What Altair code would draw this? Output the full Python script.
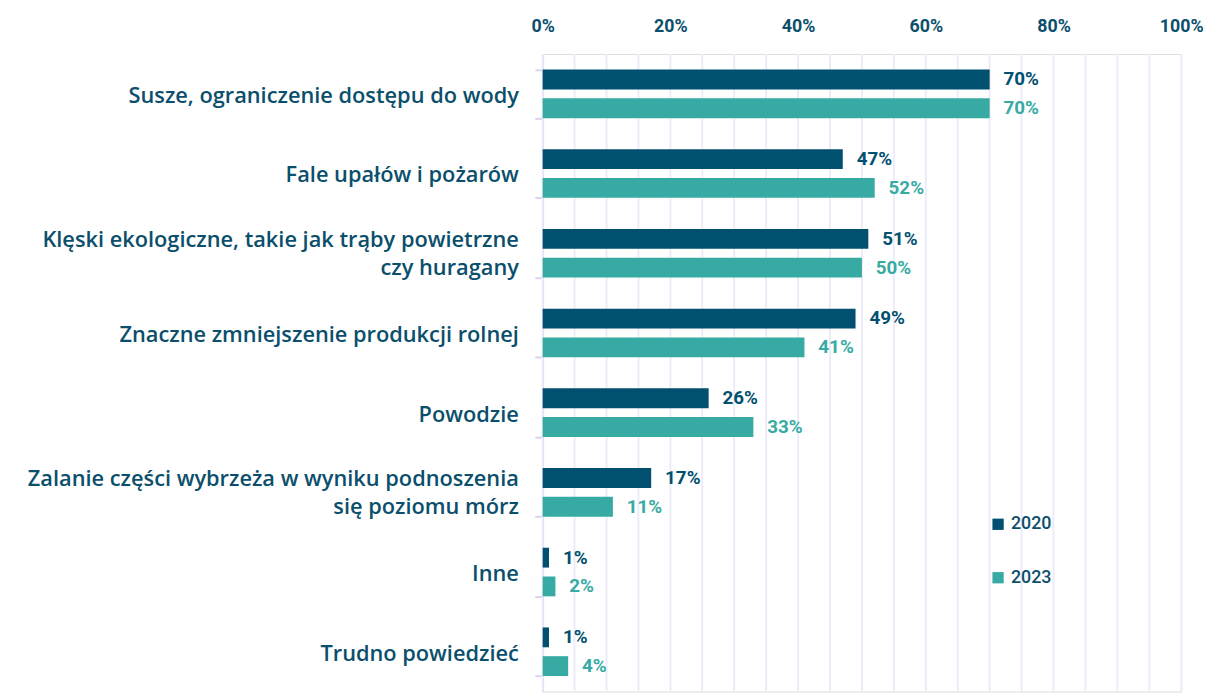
import altair as alt
import pandas as pd

categories = [
    "Susze, ograniczenie dostępu do wody",
    "Fale upałów i pożarów",
    "Klęski ekologiczne, takie jak trąby powietrzne|czy huragany",
    "Znaczne zmniejszenie produkcji rolnej",
    "Powodzie",
    "Zalanie części wybrzeża w wyniku podnoszenia|się poziomu mórz",
    "Inne",
    "Trudno powiedzieć",
]
years = ["2020", "2023"]
values_2020 = [70, 47, 51, 49, 26, 17, 1, 1]
values_2023 = [70, 52, 50, 41, 33, 11, 2, 4]
grid_values = list(range(0, 101, 5))
tick_values = list(range(0, 101, 20))

rows = []
for c, a, b in zip(categories, values_2020, values_2023):
    rows.append({"cat": c, "year": "2020", "value": a})
    rows.append({"cat": c, "year": "2023", "value": b})
df = pd.DataFrame(rows)

label_rows = []
for c in categories:
    parts = c.split("|")
    if len(parts) == 1:
        label_rows.append({"cat": c, "line": parts[0], "part": "single"})
    else:
        label_rows.append({"cat": c, "line": parts[0], "part": "first"})
        label_rows.append({"cat": c, "line": parts[1], "part": "second"})
ldf = pd.DataFrame(label_rows)
gdf = pd.DataFrame({"value": grid_values})

NAVY = "#02506F"
TEAL = "#37ABA3"
TEXT = "#0B4F6C"
LAV = "#D9D3F0"
GRID = "#EEEBF9"
FONT = "Open Sans"
NUMFONT = "Roboto"

color_scale = alt.Scale(domain=years, range=[NAVY, TEAL])
y_scale = alt.Scale(domain=categories, paddingInner=0.39, paddingOuter=0.195)
x_scale = alt.Scale(domain=[0, 100], nice=False)

x = alt.X(
    "value:Q",
    scale=x_scale,
    axis=alt.Axis(
        orient="top",
        title=None,
        values=tick_values,
        labelExpr="datum.value + '%'",
        labelFlush=False,
        labelFontSize=18,
        labelFont=NUMFONT,
        labelFontWeight="bold",
        labelColor=TEXT,
        labelPadding=19,
        ticks=False,
        domain=False,
        grid=False,
    ),
)

grid = alt.Chart(gdf).mark_rule(color=GRID, strokeWidth=2).encode(x=x)

y = alt.Y(
    "cat:N",
    sort=categories,
    scale=y_scale,
    axis=alt.Axis(
        title=None,
        labels=False,
        tickBand="extent",
        tickSize=8,
        tickColor=LAV,
        tickWidth=2,
        domainColor=LAV,
        domainWidth=2,
        grid=False,
    ),
)
yoff = alt.YOffset("year:N", sort=years, scale=alt.Scale(paddingInner=0.31))

bars = alt.Chart(df).mark_bar().encode(
    x=x,
    y=y,
    yOffset=yoff,
    color=alt.Color(
        "year:N",
        scale=color_scale,
        legend=alt.Legend(
            orient="none",
            legendX=451,
            legendY=466,
            title=None,
            symbolType="square",
            symbolSize=130,
            symbolStrokeWidth=0,
            labelFontSize=18,
            labelFont=NUMFONT,
            labelFontWeight=500,
            labelColor=TEXT,
            rowPadding=36,
            labelOffset=4,
        ),
    ),
)

values_text = alt.Chart(df).transform_calculate(
    label="datum.value + '%'"
).mark_text(
    align="left", baseline="middle", dx=14, fontSize=19, font=NUMFONT, fontWeight="bold"
).encode(
    x=alt.X("value:Q", scale=x_scale),
    y=alt.Y("cat:N", sort=categories, scale=y_scale),
    yOffset=alt.YOffset("year:N", sort=years),
    text="label:N",
    color=alt.Color("year:N", scale=color_scale, legend=None),
)


def cat_labels(part, dy):
    return alt.Chart(ldf).transform_filter(
        alt.datum.part == part
    ).mark_text(
        align="right", baseline="middle", dy=dy, fontSize=22, font=FONT,
        fontWeight=600, color=TEXT
    ).encode(
        x=alt.value(-24),
        y=alt.Y("cat:N", sort=categories, scale=y_scale),
        text="line:N",
    )


chart = alt.layer(
    grid, bars, values_text,
    cat_labels("single", 2), cat_labels("first", -13), cat_labels("second", 15),
).properties(
    width=645,
    height=644,
    autosize=alt.AutoSizeParams(type="none"),
    padding={"left": 540, "top": 43, "right": 23, "bottom": 0},
).configure_view(stroke=None).configure(background="white")

chart.save("out.html", embed_options={"renderer": "svg", "actions": False})
